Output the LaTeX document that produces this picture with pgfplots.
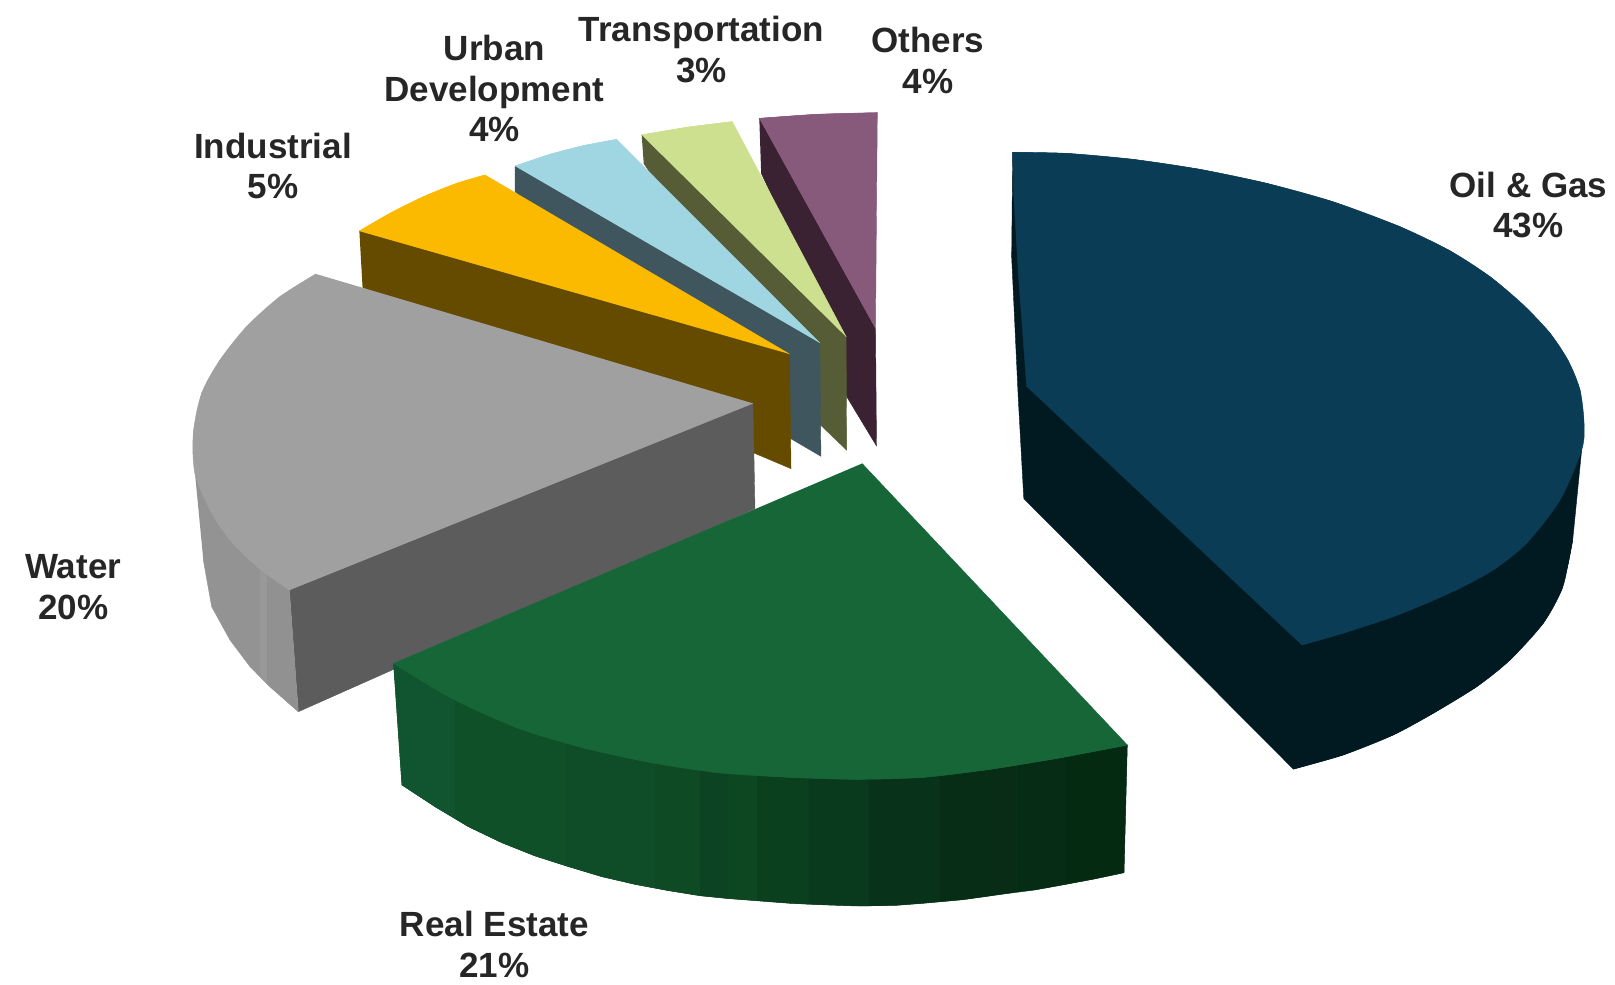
\documentclass[border=0pt]{standalone}
\usepackage{fontspec}
\setmainfont{Liberation Sans}
\usepackage{pgfplots}
\pgfplotsset{compat=1.18}
\definecolor{oilT}{HTML}{0B3C56}\definecolor{oilS}{HTML}{011A22}
\definecolor{reT}{HTML}{166638}
\definecolor{waT}{HTML}{A0A0A0}\definecolor{waF}{HTML}{5C5C5C}
\definecolor{inT}{HTML}{FBB900}\definecolor{inS}{HTML}{654B00}
\definecolor{urT}{HTML}{A0D6E2}\definecolor{urS}{HTML}{40565F}
\definecolor{trT}{HTML}{CCE08F}\definecolor{trS}{HTML}{565C35}
\definecolor{otT}{HTML}{875A7B}\definecolor{otS}{HTML}{3B2233}
\definecolor{g1}{HTML}{115530}\definecolor{g2}{HTML}{0F5029}\definecolor{g3}{HTML}{0E4D27}
\definecolor{g4}{HTML}{0E4B25}\definecolor{g5}{HTML}{0C4423}\definecolor{g6}{HTML}{0C4722}
\definecolor{g7}{HTML}{0A401E}\definecolor{g8}{HTML}{0A3A1E}\definecolor{g9}{HTML}{08331A}
\definecolor{g10}{HTML}{082D16}\definecolor{g11}{HTML}{092C17}\definecolor{g12}{HTML}{072C15}
\definecolor{g13}{HTML}{052A12}
\definecolor{s1}{HTML}{939393}\definecolor{s2}{HTML}{999999}\definecolor{s3}{HTML}{919191}
\pgfplotsset{pc/.style={fill=#1,draw=#1,line width=0.2pt,forget plot},
 pn/.style={fill=#1,draw=none,forget plot}}
\tikzset{lab/.style={font=\bfseries\fontsize{17}{19.75}\selectfont,text=black!85,align=center,inner sep=0pt}}
\begin{document}
\begin{tikzpicture}
\begin{axis}[hide axis,scale only axis,width=784pt,height=477.7pt,
 xmin=0,xmax=1568,ymin=0,ymax=955.4,y dir=reverse,clip=false]
% Others
\addplot[pc=otS] coordinates {(737.2,114.9)(850,319)(851,433)(822,385)(800,300)(739,168)};
\addplot[pc=otT] coordinates {(737.2,114.9)(792.9,111)(851.8,109.4)(850,319)};
\addplot[pc=otT,smooth] coordinates {(737.2,114.9)(792.9,111)(851.8,109.4)};
% Transportation
\addplot[pc=trS] coordinates {(623,131)(821.5,327)(822,437)(797,413)(625,158.6)};
\addplot[pc=trT] coordinates {(623,131)(666.7,123.6)(711,118.1)(821.5,327)};
\addplot[pc=trT,smooth] coordinates {(623,131)(666.7,123.6)(711,118.1)};
% Urban Development
\addplot[pc=urS] coordinates {(500,161.2)(796,333)(797,443)(768,426)(500,186)};
\addplot[pc=urT] coordinates {(500,161.2)(534,149.8)(566.3,141.4)(598.7,135.3)(796,333)};
\addplot[pc=urT,smooth] coordinates {(500,161.2)(534,149.8)(566.3,141.4)(598.7,135.3)};
% Industrial
\addplot[pc=inS] coordinates {(348.9,224.3)(766.5,343.7)(768,455)(352,279)};
\addplot[pc=inT] coordinates {(348.9,224.3)(378.6,207.1)(411,191)(443.4,178)(470.9,169.9)(766.5,343.7)};
\addplot[pc=inT,smooth] coordinates {(348.9,224.3)(378.6,207.1)(411,191)(443.4,178)(470.9,169.9)};
% Water
\addplot[pc=waF] coordinates {(280.9,572.8)(731,391.6)(733,494)(289.6,691)};
\addplot[pc=s1] coordinates {(189.3,459.5)(203.9,495)(223.3,524.3)(252.6,553)(280.9,572.8)(289.6,691)(262,666.7)(242.7,647.2)(223.3,621.4)(205.5,589)(197.4,543.7)};
\addplot[pn=s2] coordinates {(252.6,553)(259,558)(259,663.7)(252.6,657)};
\addplot[pn=s3] coordinates {(259,558)(280.9,572.8)(289.6,691)(259,663.7)};
\addplot[pc=waT] coordinates {(731,391.6)(280.9,572.8)(249.2,550)(223.3,524.3)(203.9,495)(189.3,459.5)(187.7,420.7)(195.8,381.8)(213.6,349.5)(239.5,317)(271.8,288)(306.8,266)};
\addplot[pc=waT,smooth] coordinates {(280.9,572.8)(249.2,550)(223.3,524.3)(203.9,495)(189.3,459.5)(187.7,420.7)(195.8,381.8)(213.6,349.5)(239.5,317)(271.8,288)(306.8,266)};
% Real Estate: a dark rim with its bands laid over it
\addplot[pc=g7] coordinates {(381.9,644)(1094.5,723.3)(1091.3,847.3)(1062,853.5)(1026,860.2)(1005,864)(972,868.3)(935,873.5)(896.4,877)(870,879)(831.7,879.6)(800,878.5)(767,877)(745.9,875.4)(707,872.4)(680,869.7)(648.9,864.7)(616.5,858.6)(584.1,851.1)(550,840.8)(519.4,831)(487,818.1)(454.7,802.6)(422.3,783.2)(390,762)};
\addplot[pn=g1] coordinates {(381.9,644)(441.7,680)(441.7,794.8)(422.3,783.2)(390,762)};
\addplot[pn=g2] coordinates {(441.7,680)(550,721)(550,840.8)(519.4,831)(487,818.1)(454.7,802.6)(441.7,794.8)};
\addplot[pn=g3] coordinates {(550,721)(636,741)(636,862.3)(616.5,858.6)(584.1,851.1)(550,840.8)};
\addplot[pn=g4] coordinates {(636,741)(680,748)(680,869.7)(648.9,864.7)(636,862.3)};
\addplot[pn=g5] coordinates {(680,748)(707,751)(707,872.4)(680,869.7)};
\addplot[pn=g6] coordinates {(707,751)(735,753.2)(735,874.5)(707,872.4)};
\addplot[pn=g7] coordinates {(735,753.2)(785,755.7)(785,878)(767,877)(745.9,875.4)(735,874.5)};
\addplot[pn=g8] coordinates {(785,755.7)(843,756.5)(843,879.7)(831.7,879.6)(800,878.5)(785,878)};
\addplot[pn=g9] coordinates {(843,756.5)(912,753.5)(912,875.6)(896.4,877)(870,879)(843,879.7)};
\addplot[pn=g10] coordinates {(912,753.5)(958,747.5)(958,870.4)(935,873.5)(912,875.6)};
\addplot[pn=g11] coordinates {(958,747.5)(987,743)(987,866)(972,868.3)(958,870.4)};
\addplot[pn=g12] coordinates {(987,743)(1034,735)(1034,858.8)(1026,860.2)(1005,864)(987,866)};
\addplot[pn=g13] coordinates {(1034,735)(1094.5,723.3)(1091.3,847.3)(1062,853.5)(1034,858.8)};
\addplot[pc=reT] coordinates {(837,450)(1094.5,723.3)(1026,736.3)(961.2,746.9)(896.4,754.7)(831.7,756.6)(767,754.7)(697.4,750.2)(632.7,740.5)(568,726.5)(503.2,707.1)(438.5,678)(381.9,644)};
\addplot[pc=reT,smooth] coordinates {(381.9,644)(438.5,678)(503.2,707.1)(568,726.5)(632.7,740.5)(697.4,750.2)(767,754.7)(831.7,756.6)(896.4,754.7)(961.2,746.9)(1026,736.3)(1094.5,723.3)};
% Oil & Gas
\addplot[pc=oilS] coordinates {(983.2,147.9)(982.2,249)(988.7,388)(994,484)(1255.7,746.7)(1304,733)(1352.6,713.6)(1391.5,692.5)(1433.7,666.7)(1466,640.8)(1498.4,605)(1516.2,572.8)(1522.6,546.9)(1526.9,524.3)(1535.6,436.9)};
\addplot[pc=oilS,smooth] coordinates {(1255.7,746.7)(1304,733)(1352.6,713.6)(1391.5,692.5)(1433.7,666.7)(1466,640.8)(1498.4,605)(1516.2,572.8)(1522.6,546.9)(1526.9,524.3)};
\addplot[pc=oilT] coordinates {(996.8,375.4)(988.7,265.4)(984.5,194)(983.2,147.9)(1035.6,148.9)(1100,154.7)(1165,164.4)(1229.8,178)(1294,195.8)(1359,220)(1407.8,243.5)(1446.6,268.6)(1479,296.1)(1504.9,323.5)(1522.7,350.5)(1534,378.6)(1537.9,411)(1535.6,436.9)(1514.6,485.4)(1482,527.5)(1449.7,553.4)(1417.5,571)(1385,585.6)(1352.6,598.7)(1304,614.7)(1263.8,626.2)};
\addplot[pc=oilT,smooth] coordinates {(983.2,147.9)(1035.6,148.9)(1100,154.7)(1165,164.4)(1229.8,178)(1294,195.8)(1359,220)(1407.8,243.5)(1446.6,268.6)(1479,296.1)(1504.9,323.5)(1522.7,350.5)(1534,378.6)(1537.9,411)(1535.6,436.9)(1514.6,485.4)(1482,527.5)(1449.7,553.4)(1417.5,571)(1385,585.6)(1352.6,598.7)(1304,614.7)(1263.8,626.2)};
% Labels
\node[lab] at (axis cs:681,48) {Transportation\\3\%};
\node[lab] at (axis cs:480,86) {Urban\\Development\\4\%};
\node[lab] at (axis cs:265,161) {Industrial\\5\%};
\node[lab] at (axis cs:901,59) {Others\\4\%};
\node[lab] at (axis cs:1484,199) {Oil \& Gas\\43\%};
\node[lab] at (axis cs:71,570) {Water\\20\%};
\node[lab] at (axis cs:480,917) {Real Estate\\21\%};
\end{axis}
\pgfresetboundingbox
\path (0,0) rectangle (784pt,477.7pt);
\end{tikzpicture}
\end{document}
